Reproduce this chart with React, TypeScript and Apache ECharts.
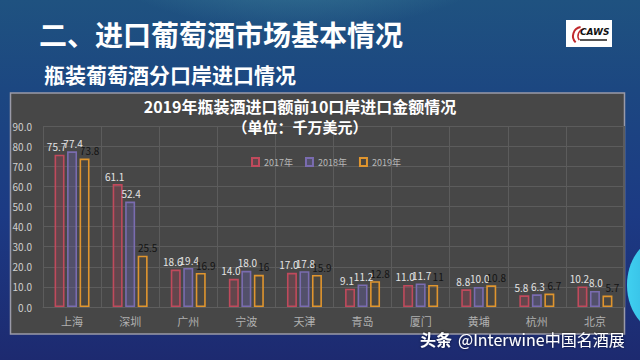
import React, { useEffect, useRef } from "react";
import * as echarts from "echarts";

const ports = ["上海", "深圳", "广州", "宁波", "天津", "青岛", "厦门", "黄埔", "杭州", "北京"];
const v2017 = [75.7, 61.1, 18.6, 14.0, 17.0, 9.1, 11.0, 8.8, 5.8, 10.2];
const v2018 = [77.4, 52.4, 19.4, 18.0, 17.8, 11.2, 11.7, 10.0, 6.3, 8.0];
const v2019 = [73.8, 25.5, 16.9, 16, 15.9, 12.8, 11, 10.8, 6.7, 5.7];
const seriesNames = ["2017年", "2018年", "2019年"];

const slideTitle = "二、进口葡萄酒市场基本情况";
const slideSubtitle = "瓶装葡萄酒分口岸进口情况";
const chartTitle = "2019年瓶装酒进口额前10口岸进口金额情况";
const chartUnit = "（单位：千万美元）";
const watermarkA = "头条";
const watermarkB = "@Interwine中国名酒展";

const FONT = "'Noto Sans CJK SC', 'Noto Sans', sans-serif";

export default function App() {
  const ref = useRef<HTMLDivElement>(null);
  useEffect(() => {
    document.body.style.margin = "0";
    const chart = echarts.init(ref.current!, null, { renderer: "svg" });
    const mk = (
      name: string,
      data: number[],
      border: string,
      fill: string,
      labelColor: string,
      fixed: boolean,
      dx: number
    ) => ({
      name,
      type: "bar",
      data,
      barWidth: 10,
      barGap: "25%",
      itemStyle: { color: fill, borderColor: border, borderWidth: 1.6 },
      label: {
        show: true,
        position: "top",
        distance: 3,
        offset: [dx, 0],
        color: labelColor,
        fontSize: 10,
        fontFamily: FONT,
        formatter: (p: any) => (fixed ? Number(p.value).toFixed(1) : String(p.value)),
      },
    });
    chart.setOption({
      animation: false,
      textStyle: { fontFamily: FONT },
      title: [
        { text: slideTitle, left: 39, top: 20, padding: 0, textStyle: { color: "#ffffff", fontSize: 28, fontWeight: "bold", fontFamily: FONT } },
        { text: slideSubtitle, left: 44, top: 63, padding: 0, textStyle: { color: "#ffffff", fontSize: 21, fontWeight: "bold", fontFamily: FONT } },
        { text: chartTitle, left: 300, top: 98, padding: 0, textAlign: "center", textStyle: { color: "#ffffff", fontSize: 16, fontWeight: "bold", fontFamily: FONT } },
        { text: chartUnit, left: 300, top: 119, padding: 0, textAlign: "center", textStyle: { color: "#ffffff", fontSize: 15, fontWeight: "bold", fontFamily: FONT } },
      ],
      legend: {
        data: seriesNames,
        left: 246,
        top: 152,
        itemWidth: 7,
        itemHeight: 8,
        itemGap: 12,
        icon: "rect",
        textStyle: { color: "#b8b8b8", fontSize: 9, fontFamily: FONT },
      },
      grid: { left: 43, right: 16, top: 126, bottom: 53 },
      xAxis: {
        type: "category",
        data: ports,
        axisLine: { lineStyle: { color: "#5e5e5e" } },
        axisTick: { show: false },
        splitLine: { show: true, lineStyle: { color: "#5c5c5c", width: 1 } },
        axisLabel: { color: "#b0b0b0", fontSize: 11, margin: 8, fontFamily: FONT },
      },
      yAxis: {
        type: "value",
        min: 0,
        max: 90,
        interval: 10,
        axisLine: { show: false },
        axisTick: { show: false },
        splitLine: { lineStyle: { color: "#5c5c5c", width: 1 } },
        axisLabel: { color: "#d0d0d0", fontSize: 10, margin: 11, formatter: (v: number) => v.toFixed(1), fontFamily: FONT },
      },
      graphic: [
        {
          type: "rect",
          z: -10,
          silent: true,
          shape: { x: 0, y: 0, width: 640, height: 360 },
          style: {
            fill: new echarts.graphic.LinearGradient(0, 0, 0, 1, [
              { offset: 0, color: "#1f5280" },
              { offset: 0.25, color: "#1c4781" },
              { offset: 0.6, color: "#1c3a84" },
              { offset: 1, color: "#1d2a70" },
            ]),
          },
        },
        {
          type: "ellipse",
          z: -9,
          silent: true,
          shape: { cx: 300, cy: -60, rx: 220, ry: 90 },
          style: {
            fill: new echarts.graphic.RadialGradient(0.5, 0.5, 0.5, [
              { offset: 0, color: "rgba(90,170,180,0.6)" },
              { offset: 1, color: "rgba(90,170,180,0)" },
            ]),
          },
        },
        {
          type: "ellipse",
          z: -9,
          silent: true,
          shape: { cx: 665, cy: 285, rx: 38, ry: 48 },
          style: {
            fill: new echarts.graphic.LinearGradient(0, 0, 1, 0, [
              { offset: 0, color: "#40d0f0" },
              { offset: 1, color: "#1a90c8" },
            ]),
          },
        },
        {
          type: "rect",
          z: -8,
          silent: true,
          shape: { x: 10.5, y: 93, width: 614, height: 241 },
          style: { fill: "#474747", stroke: "#9a9aa8", lineWidth: 1.5 },
        },
        {
          type: "rect",
          z: 5,
          silent: true,
          shape: { x: 566, y: 20, width: 46, height: 27 },
          style: { fill: "#ffffff" },
        },
        {
          type: "arc",
          z: 6,
          silent: true,
          shape: { cx: 582, cy: 36, r: 9, startAngle: Math.PI * 0.75, endAngle: Math.PI * 1.45 },
          style: { stroke: "#c0282c", lineWidth: 2, fill: "none" },
        },
        {
          type: "arc",
          z: 6,
          silent: true,
          shape: { cx: 585, cy: 36, r: 7, startAngle: Math.PI * 0.8, endAngle: Math.PI * 1.45 },
          style: { stroke: "#c0282c", lineWidth: 1.5, fill: "none" },
        },
        {
          type: "text",
          z: 6,
          silent: true,
          style: { text: "CAWS", x: 580, y: 27, fill: "#111111", font: "italic bold 9px 'DejaVu Sans', sans-serif" },
        },
        {
          type: "rect",
          z: 6,
          silent: true,
          shape: { x: 580, y: 39, width: 27, height: 2 },
          style: { fill: "#555555" },
        },
        {
          type: "text",
          z: 10,
          silent: true,
          style: {
            text: watermarkA,
            x: 420,
            y: 331,
            fill: "#ffffff",
            font: `bold 16px ${FONT}`,
            textShadowColor: "rgba(0,0,0,0.6)",
            textShadowBlur: 3,
          },
        },
        {
          type: "text",
          z: 10,
          silent: true,
          style: {
            text: watermarkB,
            x: 458,
            y: 331,
            fill: "#ffffff",
            font: `16px ${FONT}`,
            textShadowColor: "rgba(0,0,0,0.6)",
            textShadowBlur: 3,
          },
        },
      ],
      series: [
        mk(seriesNames[0], v2017, "#c04a5c", "rgba(150,70,85,0.35)", "#e4e4e4", true, -3),
        mk(seriesNames[1], v2018, "#7a6cb0", "rgba(100,95,160,0.4)", "#e4e4e4", true, 1),
        mk(seriesNames[2], v2019, "#e0952e", "rgba(80,70,55,0.4)", "#141414", false, 5),
      ],
    });
    return () => chart.dispose();
  }, []);
  return <div ref={ref} style={{ width: 640, height: 360 }} />;
}
